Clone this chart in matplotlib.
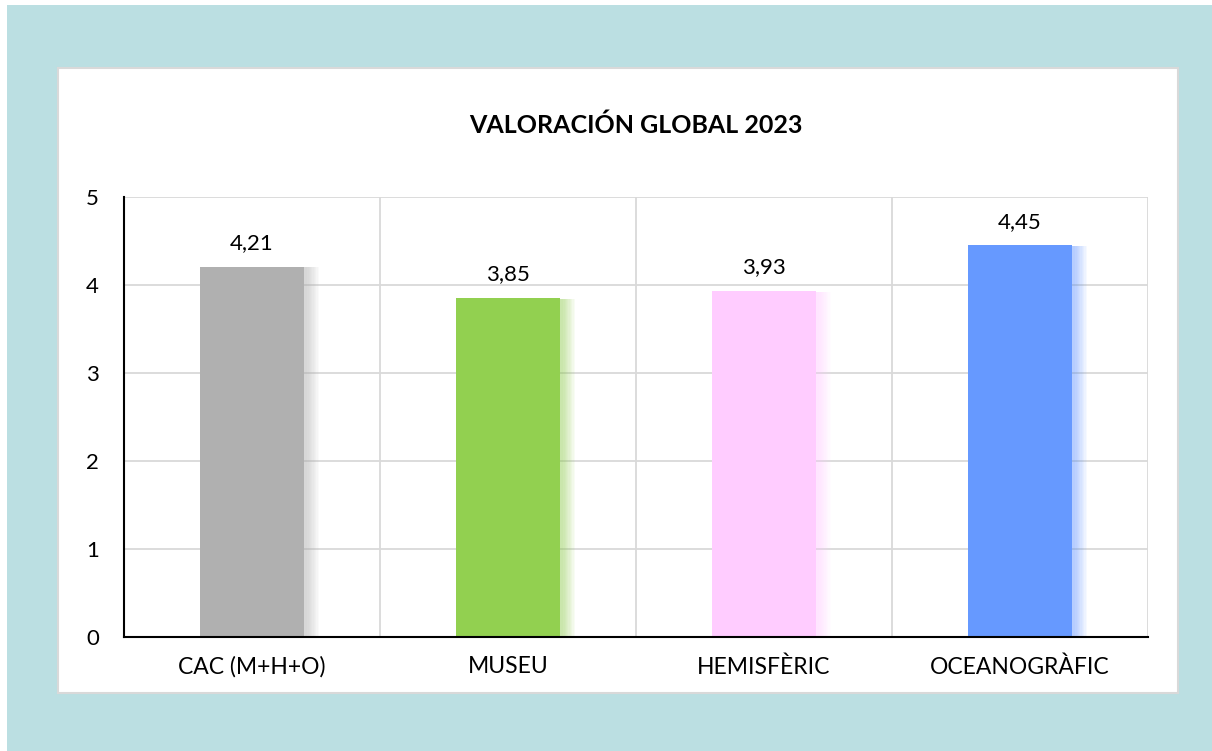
import matplotlib.pyplot as plt
from matplotlib.patches import Rectangle
import numpy as np

plt.rcParams['font.family'] = ['Lato', 'DejaVu Sans']

categories = ['CAC (M+H+O)', 'MUSEU', 'HEMISFÈRIC', 'OCEANOGRÀFIC']
values = [4.21, 3.85, 3.93, 4.45]
value_labels = ['4,21', '3,85', '3,93', '4,45']
bar_colors = ['#b0b0b0', '#92d050', '#ffccff', '#6699ff']
title = 'VALORACIÓN GLOBAL 2023'

W, H = 1212, 751
fig = plt.figure(figsize=(W / 100, H / 100), dpi=100)
fig.patch.set_facecolor('white')

# teal background and white panel
fig.patches.append(Rectangle((7 / W, 0), 1 - 7 / W, 1 - 5 / H, transform=fig.transFigure,
                             facecolor='#bbdfe2', edgecolor='none', zorder=-3))
fig.patches.append(Rectangle((58 / W, 1 - 693 / H), (1178 - 58) / W, (693 - 68) / H,
                             transform=fig.transFigure, facecolor='white',
                             edgecolor='#d9d9d9', linewidth=1.5, zorder=-2))

ax = fig.add_axes([124 / W, 1 - 637 / H, (1148 - 124) / W, (637 - 197) / H])
ax.set_facecolor('none')

x = np.arange(len(categories))
bw = 0.41

# soft shadow on right side of bars
for i, v in enumerate(values):
    for k in range(10):
        ax.add_patch(Rectangle((x[i] - bw / 2 + 0.006, 0), bw + 0.005 * (k + 1), v - 0.01,
                               facecolor=bar_colors[i], edgecolor='none',
                               alpha=0.06, zorder=1.5))

ax.bar(x, values, width=bw, color=bar_colors, zorder=2)

for xi, v, lab in zip(x, values, value_labels):
    ax.text(xi, v + 0.27, lab, ha='center', va='center', fontsize=16, color='black')

ax.set_xlim(-0.5, len(categories) - 0.5)
ax.set_ylim(0, 5)
ax.set_yticks([0, 1, 2, 3, 4, 5])
ax.set_xticks(x)
ax.set_xticklabels(categories, fontsize=16.5)
ax.tick_params(axis='y', labelsize=16, length=0, pad=18)
ax.tick_params(axis='x', length=0, pad=14)

ax.yaxis.grid(True, color='#d9d9d9', linewidth=1.3, zorder=0)
for b in np.arange(0.5, len(categories), 1):
    ax.axvline(b, color='#d9d9d9', linewidth=1.3, zorder=0)
ax.set_axisbelow(True)

for s in ['top', 'right']:
    ax.spines[s].set_visible(False)
ax.spines['left'].set_linewidth(1.5)
ax.spines['bottom'].set_linewidth(1.5)

fig.text((124 + 1148) / 2 / W, 1 - 125 / H, title, ha='center', va='center',
         fontsize=18, fontweight='bold')

fig.savefig('out.png', dpi=100)
